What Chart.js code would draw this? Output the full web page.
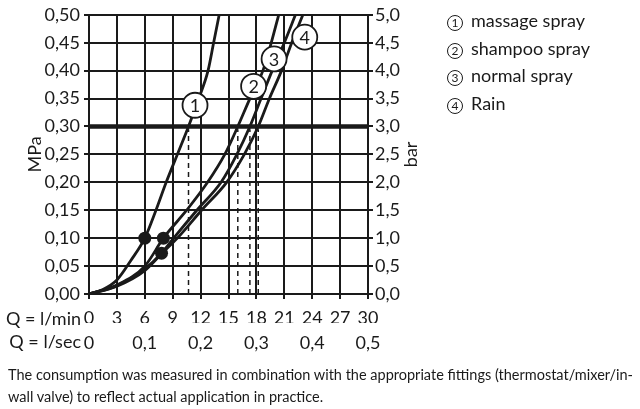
<!DOCTYPE html>
<html>
<head>
<meta charset="utf-8">
<script src="https://cdn.jsdelivr.net/npm/chart.js"></script>
<style>
  html, body { margin: 0; padding: 0; background: #fff; }
  #wrap { position: relative; width: 640px; height: 409px; overflow: hidden; font-family: Lato, sans-serif; color: #1a1a1a; }
  #myChart { position: absolute; left: 0; top: 0; }
  .legend { position: absolute; left: 447px; top: 7px; font-size: 18px; }
  .legend div { height: 27.7px; line-height: 27px; white-space: nowrap; }
  .legend span { display: inline-block; width: 14px; height: 14px; line-height: 14px; border: 1.5px solid #1a1a1a; border-radius: 50%;
                 font-size: 12px; text-align: center; margin-right: 8px; vertical-align: 0px; }
  .note { position: absolute; left: 8px; top: 364px; font-size: 14.5px; line-height: 22px; width: 632px; white-space: nowrap; }
</style>
</head>
<body>
<div id="wrap">
  <canvas id="myChart" width="640" height="409"></canvas>
  <div class="legend">
    <div><span>1</span>massage spray</div>
    <div><span>2</span>shampoo spray</div>
    <div><span>3</span>normal spray</div>
    <div><span>4</span>Rain</div>
  </div>
  <div class="note">The consumption was measured in combination with the appropriate fittings (thermostat/mixer/in-<br>wall valve) to reflect actual application in practice.</div>
</div>
<script>
// flow rate (l/min) and pressure (MPa)
const massageQ = [0, 1.5, 3, 4.5, 6, 7.2, 8.3, 9.5, 10.7, 11.8, 12.8, 13.4, 14.0];
const massageP = [0, 0.008, 0.025, 0.06, 0.10, 0.15, 0.20, 0.25, 0.30, 0.35, 0.40, 0.45, 0.50];
const shampooQ = [0, 3, 6, 8.0, 10.5, 12.75, 14.6, 16.0, 17.3, 18.7, 19.6, 20.4];
const shampooP = [0, 0.016, 0.05, 0.10, 0.15, 0.20, 0.25, 0.30, 0.35, 0.40, 0.45, 0.50];
const normalQ = [0, 3, 6, 7.8, 9.1, 11.6, 14.2, 15.9, 17.3, 18.5, 19.7, 21.0, 22.2];
const normalP = [0, 0.015, 0.045, 0.073, 0.10, 0.15, 0.20, 0.25, 0.30, 0.35, 0.40, 0.45, 0.50];
const rainQ = [0, 3, 6, 7.8, 9.5, 12.1, 14.8, 16.7, 18.2, 19.4, 20.7, 21.8, 23.0];
const rainP = [0, 0.014, 0.042, 0.072, 0.10, 0.15, 0.20, 0.25, 0.30, 0.35, 0.40, 0.45, 0.50];

// minimum flow pressure dots
const dotQ = [6, 8.0, 7.8];
const dotP = [0.10, 0.10, 0.073];

// flow at the nominal 0.3 MPa
const nominalP = 0.30;
const nominalQ = [10.7, 16.0, 17.3, 18.2];

// circled curve numbers
const labelText = ['1', '2', '3', '4'];
const labelQ = [11.4, 17.7, 19.9, 23.2];
const labelP = [0.338, 0.372, 0.421, 0.46];

const ink = '#1a1a1a';
const tickFont = { family: 'Lato', size: 18 };

function pts(xs, ys) {
    return xs.map((x, i) => ({ x: x, y: ys[i] }));
}
function comma(v, d) {
    return Number(v).toFixed(d).replace('.', ',');
}

function curve(xs, ys) {
    return {
        data: pts(xs, ys), showLine: true, borderColor: ink, borderWidth: 2.8,
        pointRadius: 0, cubicInterpolationMode: 'monotone', order: 2
    };
}

let datasets = [
    {   // number circles
        data: pts(labelQ, labelP), pointRadius: 12.5, pointBackgroundColor: '#fff',
        pointBorderColor: ink, pointBorderWidth: 1.8, order: 0
    },
    {   // min pressure dots
        data: pts(dotQ, dotP), pointRadius: 6.5, pointBackgroundColor: ink,
        pointBorderColor: ink, pointBorderWidth: 0, order: 1
    },
    curve(massageQ, massageP),
    curve(shampooQ, shampooP),
    curve(normalQ, normalP),
    curve(rainQ, rainP),
    {   // nominal pressure line
        data: [{ x: 0, y: nominalP }, { x: 30, y: nominalP }], showLine: true,
        borderColor: ink, borderWidth: 4.5, pointRadius: 0, order: 3
    }
];
nominalQ.forEach(q => {
    datasets.push({
        data: [{ x: q, y: 0 }, { x: q, y: nominalP - 0.005 }], showLine: true,
        borderColor: ink, borderWidth: 1.5, borderDash: [5, 4], pointRadius: 0, order: 4
    });
});

const extraText = {
    id: 'extraText',
    afterDatasetsDraw(chart) {
        const c = chart.ctx;
        const meta = chart.getDatasetMeta(0);
        c.save();
        c.fillStyle = ink;
        c.textAlign = 'center';
        c.textBaseline = 'middle';
        c.font = '18px Lato';
        meta.data.forEach((el, i) => c.fillText(labelText[i], el.x, el.y + 1));
        c.restore();
    },
    afterDraw(chart) {
        const c = chart.ctx;
        const x = chart.scales.x, x2 = chart.scales.x2;
        c.save();
        c.fillStyle = ink;
        c.font = '18px Lato';
        c.textAlign = 'right';
        c.textBaseline = 'middle';
        c.fillText('Q = l/min', x.left - 8, x.top + 25);
        c.fillText('Q = l/sec', x.left - 8, x2.top + 19);
        // right axis title reads bottom to top like the left one
        c.translate(chart.chartArea.right + 43, (chart.chartArea.top + chart.chartArea.bottom) / 2);
        c.rotate(-Math.PI / 2);
        c.textAlign = 'center';
        c.fillText('bar', 0, 0);
        c.restore();
    }
};

window.addEventListener('load', function() {
    let ctx = document.getElementById('myChart').getContext('2d');
    new Chart(ctx, {
        type: 'scatter',
        data: { datasets: datasets },
        options: {
            responsive: false,
            animation: false,
            layout: { padding: { top: 13, left: 0, right: 0, bottom: 0 } },
            plugins: { legend: { display: false }, tooltip: { enabled: false } },
            scales: {
                x: {
                    type: 'linear', position: 'bottom', min: 0, max: 30,
                    afterFit(s) { s.height = 29; },
                    ticks: { stepSize: 3, color: ink, font: tickFont, padding: 8 },
                    grid: { color: ink, lineWidth: 2, tickLength: 5 },
                    border: { color: ink, width: 2 }
                },
                x2: {
                    type: 'linear', position: 'bottom', min: 0, max: 0.5,
                    afterFit(s) { s.height = 86; },
                    ticks: { stepSize: 0.1, color: ink, font: tickFont, padding: 1,
                             callback: v => v === 0 ? '0' : comma(v, 1) },
                    grid: { display: false },
                    border: { display: false }
                },
                y: {
                    position: 'left', min: 0, max: 0.5,
                    afterFit(s) { s.width = 89; },
                    ticks: { stepSize: 0.05, color: ink, font: tickFont, padding: 4,
                             callback: v => comma(v, 2) },
                    grid: { color: ink, lineWidth: 2, tickLength: 5 },
                    border: { color: ink, width: 2 },
                    title: { display: true, text: 'MPa', color: ink, font: tickFont,
                             padding: { top: 24, bottom: 0 } }
                },
                y2: {
                    position: 'right', min: 0, max: 5,
                    afterFit(s) { s.width = 272; },
                    ticks: { stepSize: 0.5, color: ink, font: tickFont, padding: 2,
                             callback: v => comma(v, 1) },
                    grid: { drawOnChartArea: false, color: ink, lineWidth: 2, tickLength: 5 },
                    border: { color: ink, width: 2 }
                }
            }
        },
        plugins: [extraText]
    });
});
</script>
</body>
</html>
